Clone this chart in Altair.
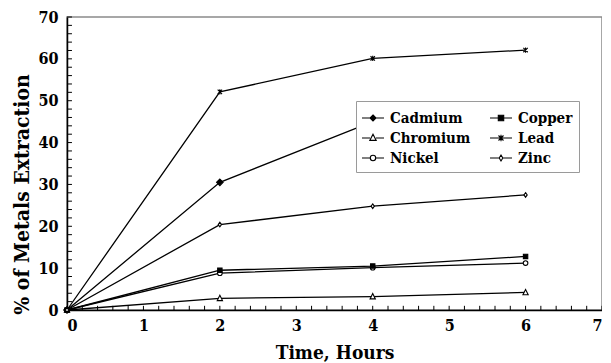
import altair as alt
import pandas as pd

# ---- data ----
hours = [0, 2, 4, 6]
# legend entries listed column by column (2 columns x 3 rows)
metals = ["Cadmium", "Chromium", "Nickel", "Copper", "Lead", "Zinc"]
cadmium = [0, 30.5, 45.0, 48.0]
copper = [0, 9.5, 10.5, 12.8]
chromium = [0, 2.8, 3.2, 4.2]
lead = [0, 52.1, 60.1, 62.1]
nickel = [0, 8.8, 10.1, 11.2]
zinc = [0, 20.4, 24.8, 27.5]
x_ticks = [0, 1, 2, 3, 4, 5, 6, 7]
y_ticks = [0, 10, 20, 30, 40, 50, 60, 70]
x_minor = [i / 5 for i in range(1, 36)]
y_minor = list(range(2, 71, 2))

series = {"Cadmium": cadmium, "Copper": copper, "Chromium": chromium,
          "Lead": lead, "Nickel": nickel, "Zinc": zinc}
rows = []
for m in metals:
    for h, v in zip(hours, series[m]):
        rows.append({"Metal": m, "Hours": h, "Value": v})
df = pd.DataFrame(rows)

FONT = "DejaVu Serif Condensed, DejaVu Serif"

plot_shapes = [
    "M0,-0.6L0.6,0L0,0.6L-0.6,0Z",                        # Cadmium diamond
    "M0,-0.55L0.48,0.42L-0.48,0.42Z",                      # Chromium triangle
    "M0.42,0A0.42,0.42 0 1,1 -0.42,0A0.42,0.42 0 1,1 0.42,0Z",  # Nickel circle
    "M-0.4,-0.4H0.4V0.4H-0.4Z",                            # Copper square
    "M-0.4,-0.4L0.4,0.4M-0.4,0.4L0.4,-0.4M0,-0.48V0.48",   # Lead asterisk
    "M0,-0.42L0.3,0L0,0.42L-0.3,0Z",                       # Zinc small diamond
]
legend_shapes = [
    "M-1.1,0H1.1M0,-0.3L0.3,0L0,0.3L-0.3,0Z",
    "M-1.1,0H-0.3M0.3,0H1.1M0,-0.38L0.32,0.24L-0.32,0.24Z",
    "M-1.1,0H-0.27M0.27,0H1.1M0.27,0A0.27,0.27 0 1,1 -0.27,0A0.27,0.27 0 1,1 0.27,0Z",
    "M-1.1,0H1.1M-0.27,-0.27H0.27V0.27H-0.27Z",
    "M-1.1,0H1.1M-0.25,-0.25L0.25,0.25M-0.25,0.25L0.25,-0.25M0,-0.32V0.32",
    "M-1.1,0H-0.18M0.18,0H1.1M0,-0.3L0.18,0L0,0.3L-0.18,0Z",
]
fills = ["black", "white", "white", "black", "white", "white"]
strokes = ["black"] * 6

xs = alt.Scale(domain=[0, 7], nice=False, zero=False)
ys = alt.Scale(domain=[0, 70], nice=False)

x_enc = alt.X("Hours:Q", scale=xs, axis=alt.Axis(values=x_ticks, format="d", title="Time, Hours",
                                                    titleBaseline="alphabetic", titleY=48,
                                                    labelPadding=7))
y_enc = alt.Y("Value:Q", scale=ys, axis=alt.Axis(values=y_ticks, format="d",
                                                    title="% of Metals Extraction",
                                                    titleFontSize=21,
                                                    titleX=-45, titleY=177, titleBaseline="middle",
                                                    labelPadding=9))

lines = alt.Chart(df).mark_line(color="black", strokeWidth=1.3).encode(
    x=x_enc, y=y_enc, detail="Metal:N"
)

points = alt.Chart(df).mark_point(stroke="black", strokeWidth=1.1, opacity=1, size=120).encode(
    x="Hours:Q", y="Value:Q",
    shape=alt.Shape("Metal:N", scale=alt.Scale(domain=metals, range=plot_shapes), legend=None),
    fill=alt.Fill("Metal:N", scale=alt.Scale(domain=metals, range=fills), legend=None),
)


def mk_legend():
    return alt.Legend(title=None, orient="none", legendX=289, legendY=84,
                      columns=2, columnPadding=16, rowPadding=1,
                      symbolSize=400, symbolStrokeColor="black",
                      symbolStrokeWidth=1.1, symbolOpacity=1,
                      labelFont=FONT, labelFontSize=15, labelFontWeight="bold",
                      labelColor="black", labelOffset=6,
                      fillColor="white", strokeColor="#9a9a9a", padding=6)


legend_layer = alt.Chart(df).transform_filter("datum.Hours < 0").mark_point(
    strokeWidth=1.1, opacity=1, size=400
).encode(
    x="Hours:Q", y="Value:Q",
    shape=alt.Shape("Metal:N", scale=alt.Scale(domain=metals, range=legend_shapes),
                    legend=mk_legend()),
    fill=alt.Fill("Metal:N", scale=alt.Scale(domain=metals, range=fills), legend=mk_legend()),
    stroke=alt.Stroke("Metal:N", scale=alt.Scale(domain=metals, range=strokes), legend=mk_legend()),
)

xt = pd.DataFrame({"t": x_minor})
yt = pd.DataFrame({"t": y_minor})
x_tick_marks = alt.Chart(xt).mark_rule(color="black", strokeWidth=1).encode(
    x="t:Q", y=alt.datum(0), y2=alt.datum(1.0)
)
y_tick_marks = alt.Chart(yt).mark_rule(color="black", strokeWidth=1).encode(
    y="t:Q", x=alt.datum(0), x2=alt.datum(0.065)
)

chart = alt.layer(x_tick_marks, y_tick_marks, lines, points, legend_layer).resolve_scale(
    shape="independent", fill="independent", stroke="independent"
).properties(
    width=535, height=293,
    autosize=alt.AutoSizeParams(type="none"),
    padding={"left": 59, "top": 9, "right": 0, "bottom": 53},
).configure_view(
    stroke="#8a8a8a", strokeWidth=1.5
).configure_axis(
    domainColor="black", domainWidth=1.5, ticks=False, grid=False,
    labelFont=FONT, labelFontSize=16, labelFontWeight="bold", labelColor="black",
    titleFont=FONT, titleFontSize=19, titleFontWeight="bold", titleColor="black",
)

chart.save("out.html", embed_options={"renderer": "svg", "actions": False})
